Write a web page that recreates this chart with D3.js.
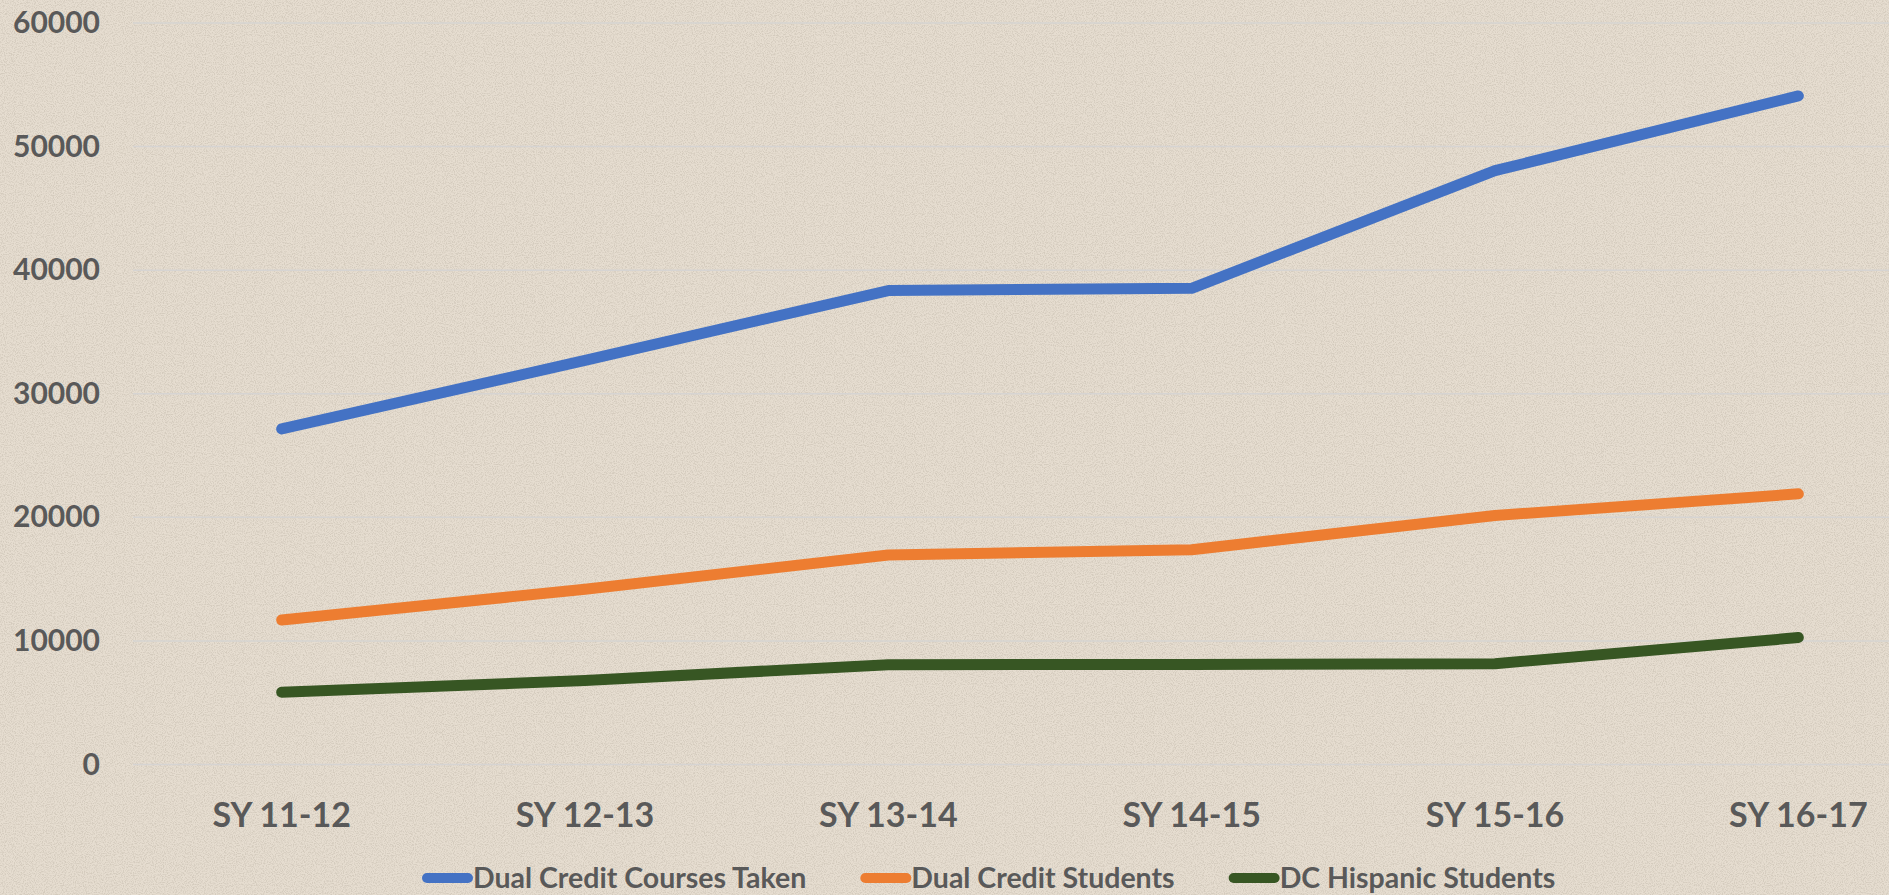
<!DOCTYPE html>
<html>
<head>
<meta charset="utf-8">
<script src="https://cdn.jsdelivr.net/npm/d3@7"></script>
<style>
  html, body { margin: 0; padding: 0; background: #e5dcce; }
  #graph svg { display: block; }
</style>
</head>
<body>
<div id="graph"></div>
<script>
// data
var years = ["SY 11-12", "SY 12-13", "SY 13-14", "SY 14-15", "SY 15-16", "SY 16-17"];
var coursesTaken = [27150, 32700, 38350, 38530, 48050, 54100];
var creditStudents = [11690, 14180, 16950, 17380, 20150, 21900];
var hispanicStudents = [5840, 6800, 8080, 8100, 8150, 10270];
var yTicks = [0, 10000, 20000, 30000, 40000, 50000, 60000];
var seriesNames = ["Dual Credit Courses Taken", "Dual Credit Students", "DC Hispanic Students"];
var seriesColors = ["#4472c4", "#ed7d31", "#375623"];

var width = 1889,
    height = 895;

var svg = d3.select("#graph").append("svg")
    .attr("width", width)
    .attr("height", height);

// paper-ish background with a faint speckle
var defs = svg.append("defs");
var speck = defs.append("filter")
    .attr("id", "speck")
    .attr("x", 0).attr("y", 0)
    .attr("width", "100%").attr("height", "100%");
speck.append("feTurbulence")
    .attr("type", "fractalNoise")
    .attr("baseFrequency", 0.9)
    .attr("numOctaves", 2)
    .attr("seed", 3)
    .attr("result", "noise");
speck.append("feColorMatrix")
    .attr("in", "noise")
    .attr("type", "matrix")
    .attr("values", "0 0 0 0 0.45  0 0 0 0 0.40  0 0 0 0 0.33  0 0 0 -3.2 1.85");

svg.append("rect")
    .attr("width", width)
    .attr("height", height)
    .attr("fill", "#e6ddd0");
svg.append("rect")
    .attr("width", width)
    .attr("height", height)
    .attr("filter", "url(#speck)")
    .attr("opacity", 0.35);

// plot area runs a little past the right edge, like the original
var x = d3.scaleBand()
    .domain(years)
    .range([130, 1950]);

var y = d3.scaleLinear()
    .domain([0, 60000])
    .range([764.5, 23]);

var xc = function(d) { return x(d) + x.bandwidth() / 2; };

// gridlines
svg.append("g")
    .attr("class", "grid")
    .selectAll("line")
    .data(yTicks)
    .enter()
        .append("line")
        .attr("x1", 133)
        .attr("x2", width)
        .attr("y1", function(d) { return y(d); })
        .attr("y2", function(d) { return y(d); })
        .attr("stroke", "#d6d4d2")
        .attr("stroke-width", 1.5);

// y axis labels
var yAxis = d3.axisLeft(y)
    .tickValues(yTicks)
    .tickFormat(d3.format("d"))
    .tickSize(0)
    .tickPadding(0);

svg.append("g")
    .attr("transform", "translate(100,0)")
    .call(yAxis)
    .call(function(g) { g.select(".domain").remove(); })
    .selectAll("text")
        .attr("fill", "#595959")
        .style("font-family", "Lato, 'Open Sans', sans-serif")
        .style("font-weight", "bold")
        .style("font-size", "30px");

// x axis labels
var xAxis = d3.axisBottom(x)
    .tickSize(0)
    .tickPadding(0);

svg.append("g")
    .attr("transform", "translate(0,803)")
    .call(xAxis)
    .call(function(g) { g.select(".domain").remove(); })
    .selectAll("text")
        .attr("dy", "0.71em")
        .attr("fill", "#595959")
        .style("font-family", "Lato, 'Open Sans', sans-serif")
        .style("font-weight", "bold")
        .style("font-size", "34px");

// lines
var allSeries = [coursesTaken, creditStudents, hispanicStudents];

var line = d3.line()
    .x(function(d, i) { return xc(years[i]); })
    .y(function(d) { return y(d); });

svg.append("g")
    .attr("class", "lines")
    .selectAll("path")
    .data(allSeries)
    .enter()
        .append("path")
        .attr("d", line)
        .attr("fill", "none")
        .attr("stroke", function(d, i) { return seriesColors[i]; })
        .attr("stroke-width", 11)
        .attr("stroke-linecap", "round")
        .attr("stroke-linejoin", "round");

// legend, laid out left to right
var legend = svg.append("g").attr("class", "legend");
var lx = 422,
    ly = 878;

seriesNames.forEach(function(name, i) {
    legend.append("line")
        .attr("x1", lx + 5)
        .attr("x2", lx + 46)
        .attr("y1", ly)
        .attr("y2", ly)
        .attr("stroke", seriesColors[i])
        .attr("stroke-width", 10)
        .attr("stroke-linecap", "round");
    var t = legend.append("text")
        .attr("x", lx + 51)
        .attr("y", ly)
        .attr("dy", "0.36em")
        .attr("fill", "#595959")
        .style("font-family", "Lato, 'Open Sans', sans-serif")
        .style("font-weight", "bold")
        .style("font-size", "28.5px")
        .text(name);
    lx = lx + 51 + t.node().getComputedTextLength() + 54;
});
</script>
</body>
</html>
